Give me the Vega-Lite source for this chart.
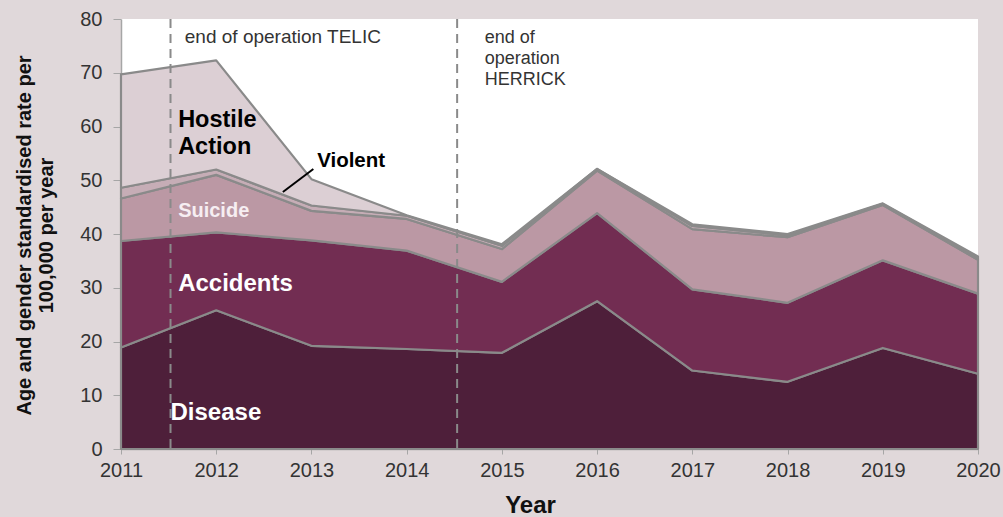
{
  "$schema": "https://vega.github.io/schema/vega-lite/v6.json",
  "width": 857,
  "height": 430,
  "autosize": {"type": "none"},
  "padding": {"left": 121, "top": 19, "right": 25, "bottom": 68},
  "background": "#e0d8da",
  "config": {
    "view": {"fill": "white", "stroke": null},
    "font": "Liberation Sans",
    "axis": {"grid": false}
  },
  "layer": [
    {
      "data": {"values": [
        {"year": 2011, "cause": "Disease", "rate": 18.9},
        {"year": 2012, "cause": "Disease", "rate": 25.8},
        {"year": 2013, "cause": "Disease", "rate": 19.2},
        {"year": 2014, "cause": "Disease", "rate": 18.6},
        {"year": 2015, "cause": "Disease", "rate": 17.9},
        {"year": 2016, "cause": "Disease", "rate": 27.5},
        {"year": 2017, "cause": "Disease", "rate": 14.6},
        {"year": 2018, "cause": "Disease", "rate": 12.5},
        {"year": 2019, "cause": "Disease", "rate": 18.8},
        {"year": 2020, "cause": "Disease", "rate": 14.0},
        {"year": 2011, "cause": "Accidents", "rate": 19.8},
        {"year": 2012, "cause": "Accidents", "rate": 14.5},
        {"year": 2013, "cause": "Accidents", "rate": 19.6},
        {"year": 2014, "cause": "Accidents", "rate": 18.3},
        {"year": 2015, "cause": "Accidents", "rate": 13.2},
        {"year": 2016, "cause": "Accidents", "rate": 16.4},
        {"year": 2017, "cause": "Accidents", "rate": 15.1},
        {"year": 2018, "cause": "Accidents", "rate": 14.7},
        {"year": 2019, "cause": "Accidents", "rate": 16.3},
        {"year": 2020, "cause": "Accidents", "rate": 14.9},
        {"year": 2011, "cause": "Suicide", "rate": 7.9},
        {"year": 2012, "cause": "Suicide", "rate": 10.7},
        {"year": 2013, "cause": "Suicide", "rate": 5.5},
        {"year": 2014, "cause": "Suicide", "rate": 5.9},
        {"year": 2015, "cause": "Suicide", "rate": 6.1},
        {"year": 2016, "cause": "Suicide", "rate": 7.9},
        {"year": 2017, "cause": "Suicide", "rate": 11.2},
        {"year": 2018, "cause": "Suicide", "rate": 12.2},
        {"year": 2019, "cause": "Suicide", "rate": 10.3},
        {"year": 2020, "cause": "Suicide", "rate": 6.3},
        {"year": 2011, "cause": "Violent", "rate": 2.0},
        {"year": 2012, "cause": "Violent", "rate": 1.0},
        {"year": 2013, "cause": "Violent", "rate": 1.0},
        {"year": 2014, "cause": "Violent", "rate": 0.6},
        {"year": 2015, "cause": "Violent", "rate": 0.6},
        {"year": 2016, "cause": "Violent", "rate": 0.3},
        {"year": 2017, "cause": "Violent", "rate": 0.6},
        {"year": 2018, "cause": "Violent", "rate": 0.4},
        {"year": 2019, "cause": "Violent", "rate": 0.2},
        {"year": 2020, "cause": "Violent", "rate": 0.4},
        {"year": 2011, "cause": "Hostile Action", "rate": 21.1},
        {"year": 2012, "cause": "Hostile Action", "rate": 20.3},
        {"year": 2013, "cause": "Hostile Action", "rate": 4.9},
        {"year": 2014, "cause": "Hostile Action", "rate": 0.1},
        {"year": 2015, "cause": "Hostile Action", "rate": 0.3},
        {"year": 2016, "cause": "Hostile Action", "rate": 0.0},
        {"year": 2017, "cause": "Hostile Action", "rate": 0.3},
        {"year": 2018, "cause": "Hostile Action", "rate": 0.2},
        {"year": 2019, "cause": "Hostile Action", "rate": 0.1},
        {"year": 2020, "cause": "Hostile Action", "rate": 0.2}
      ]},
      "transform": [{"stack": "rate", "groupby": ["year"], "as": ["y0", "y1"]}],
      "mark": {"type": "area", "stroke": "#8a8a8a", "strokeWidth": 2.2, "strokeJoin": "round"},
      "encoding": {
        "x": {
          "field": "year", "type": "quantitative",
          "scale": {"domain": [2011, 2020], "nice": false, "zero": false},
          "axis": {
            "values": [2011, 2012, 2013, 2014, 2015, 2016, 2017, 2018, 2019, 2020],
            "format": "d", "labelFlush": false, "labelOverlap": false,
            "labelFontSize": 20, "labelColor": "#333333", "labelPadding": 6,
            "tickSize": 5, "tickColor": "#a6a6a6", "domainColor": "#a6a6a6", "domainWidth": 1.5,
            "title": "Year", "titleFontSize": 24, "titleFontWeight": "bold", "titleColor": "#111111",
            "titleX": 409, "titleY": 63, "titleBaseline": "alphabetic", "titleAlign": "center"
          }
        },
        "y": {
          "field": "y1", "type": "quantitative",
          "scale": {"domain": [0, 80], "nice": false},
          "axis": {
            "values": [0, 10, 20, 30, 40, 50, 60, 70, 80],
            "labelFlush": false, "labelOverlap": false,
            "labelFontSize": 20, "labelColor": "#333333", "labelPadding": 11,
            "tickSize": 8, "tickColor": "#a6a6a6", "domainColor": "#a6a6a6", "domainWidth": 1.5,
            "title": ["Age and gender standardised rate per", "100,000 per year"],
            "titleFontSize": 20, "titleFontWeight": "bold", "titleColor": "#111111",
            "titleLineHeight": 22, "titleAngle": 270,
            "titleX": -91, "titleY": 216, "titleBaseline": "alphabetic", "titleAlign": "center"
          }
        },
        "y2": {"field": "y0"},
        "color": {
          "field": "cause", "type": "nominal",
          "scale": {
            "domain": ["Disease", "Accidents", "Suicide", "Violent", "Hostile Action"],
            "range": ["#4e1f3a", "#722d52", "#bb98a4", "#c6adb6", "#dccfd4"]
          },
          "legend": null
        }
      }
    },
    {
      "data": {"values": [{"when": "end of operation TELIC", "year": 2011.52}, {"when": "end of operation HERRICK", "year": 2014.53}]},
      "mark": {"type": "rule", "color": "#8a8a8a", "strokeWidth": 2, "strokeDash": [9, 6]},
      "encoding": {"x": {"field": "year", "type": "quantitative"}}
    },
    {
      "data": {"values": [{"label": "Violent"}]},
      "mark": {"type": "rule", "color": "#000000", "strokeWidth": 2},
      "encoding": {
        "x": {"datum": 2012.70, "type": "quantitative"},
        "y": {"datum": 47.8, "type": "quantitative"},
        "x2": {"datum": 2013.02},
        "y2": {"datum": 52.1}
      }
    },
    {
      "data": {"values": [{"label": "Hostile Action"}]},
      "mark": {"type": "text", "fontSize": 23.5, "fontWeight": "bold", "color": "#000000", "align": "left", "baseline": "alphabetic", "lineHeight": 27},
      "encoding": {
        "x": {"datum": 2011.60, "type": "quantitative"},
        "y": {"datum": 60.0, "type": "quantitative"},
        "text": {"value": ["Hostile", "Action"]}
      }
    },
    {
      "data": {"values": [{"label": "Violent"}]},
      "mark": {"type": "text", "fontSize": 20.5, "fontWeight": "bold", "color": "#000000", "align": "left", "baseline": "alphabetic"},
      "encoding": {
        "x": {"datum": 2013.06, "type": "quantitative"},
        "y": {"datum": 52.5, "type": "quantitative"},
        "text": {"field": "label"}
      }
    },
    {
      "data": {"values": [{"label": "Suicide"}]},
      "mark": {"type": "text", "fontSize": 20, "fontWeight": "bold", "color": "#f6eef2", "align": "left", "baseline": "alphabetic"},
      "encoding": {
        "x": {"datum": 2011.60, "type": "quantitative"},
        "y": {"datum": 43.1, "type": "quantitative"},
        "text": {"field": "label"}
      }
    },
    {
      "data": {"values": [{"label": "Accidents"}]},
      "mark": {"type": "text", "fontSize": 24, "fontWeight": "bold", "color": "#ffffff", "align": "left", "baseline": "alphabetic"},
      "encoding": {
        "x": {"datum": 2011.60, "type": "quantitative"},
        "y": {"datum": 29.4, "type": "quantitative"},
        "text": {"field": "label"}
      }
    },
    {
      "data": {"values": [{"label": "Disease"}]},
      "mark": {"type": "text", "fontSize": 24, "fontWeight": "bold", "color": "#ffffff", "align": "left", "baseline": "alphabetic"},
      "encoding": {
        "x": {"datum": 2011.52, "type": "quantitative"},
        "y": {"datum": 5.4, "type": "quantitative"},
        "text": {"field": "label"}
      }
    },
    {
      "data": {"values": [{"label": "end of operation TELIC"}]},
      "mark": {"type": "text", "fontSize": 19, "color": "#333333", "align": "left", "baseline": "alphabetic"},
      "encoding": {
        "x": {"datum": 2011.67, "type": "quantitative"},
        "y": {"datum": 75.6, "type": "quantitative"},
        "text": {"field": "label"}
      }
    },
    {
      "data": {"values": [{"label": "end of operation HERRICK"}]},
      "mark": {"type": "text", "fontSize": 18, "color": "#333333", "align": "left", "baseline": "alphabetic", "lineHeight": 21},
      "encoding": {
        "x": {"datum": 2014.82, "type": "quantitative"},
        "y": {"datum": 75.6, "type": "quantitative"},
        "text": {"value": ["end of", "operation", "HERRICK"]}
      }
    }
  ]
}
